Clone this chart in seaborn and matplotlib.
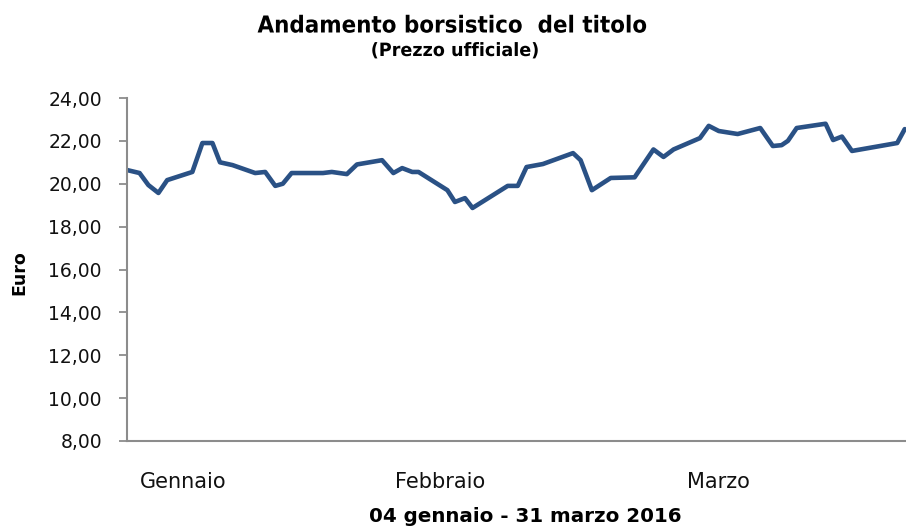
import matplotlib
matplotlib.use("Agg")
import matplotlib.pyplot as plt
from matplotlib.patheffects import AbstractPathEffect
from matplotlib.transforms import Affine2D
import seaborn as sns
import pandas as pd

# Data: trading-day position (0 = 4 Jan 2016) and official price (EUR)
day = [0.0, 1.0, 1.7, 2.5, 3.2, 5.2, 6.0, 6.8, 7.4, 8.4, 10.2, 11.0, 11.8, 12.4,
       13.1, 15.6, 16.3, 17.5, 18.3, 20.3, 21.2, 21.9, 22.7, 23.2, 25.5, 26.1,
       26.9, 27.5, 30.3, 31.1, 31.8, 33.1, 35.5, 36.1, 37.0, 38.5, 40.4, 41.9,
       42.7, 43.5, 45.6, 46.3, 47.1, 48.6, 50.4, 51.4, 52.1, 52.6, 53.3, 55.6,
       56.2, 56.9, 57.7, 61.3, 61.9]
price = [20.64, 20.50, 19.94, 19.57, 20.17, 20.55, 21.90, 21.90, 21.00, 20.87,
         20.50, 20.55, 19.90, 20.00, 20.50, 20.50, 20.55, 20.45, 20.90, 21.10,
         20.50, 20.73, 20.55, 20.55, 19.70, 19.15, 19.33, 18.87, 19.90, 19.90,
         20.78, 20.92, 21.43, 21.10, 19.70, 20.27, 20.30, 21.60, 21.25, 21.60,
         22.13, 22.70, 22.46, 22.32, 22.60, 21.76, 21.80, 22.00, 22.60, 22.80,
         22.04, 22.20, 21.53, 21.90, 22.55]
month_labels = ["Gennaio", "Febbraio", "Marzo"]
month_pos = [4.45, 24.9, 47.05]
y_ticks = [8, 10, 12, 14, 16, 18, 20, 22, 24]


class Squeeze(AbstractPathEffect):
    """Horizontally condense text around a pixel x position."""
    def __init__(self, sx, cx):
        super().__init__()
        self.sx = sx
        self.cx = cx

    def draw_path(self, renderer, gc, tpath, affine, rgbFace=None):
        t = affine + Affine2D().translate(-self.cx, 0).scale(self.sx, 1).translate(self.cx, 0)
        renderer.draw_path(gc, tpath, t, rgbFace)


sns.set_theme(style="white")
plt.rcParams["font.family"] = ["DejaVu Sans"]

df = pd.DataFrame({"day": day, "price": price})

W, H = 906, 528
fig = plt.figure(figsize=(W / 100, H / 100), dpi=100)
ax = fig.add_axes([127 / W, 1 - 441 / H, 1 - 127 / W, (441 - 98) / H])
sns.lineplot(data=df, x="day", y="price", ax=ax, color="#2a5185", linewidth=3.3,
             solid_joinstyle="round", solid_capstyle="round")

ax.set_xlim(0, 62)
ax.set_ylim(8, 24)
ax.set_yticks(y_ticks)
ax.set_yticklabels([f"{v:.2f}".replace(".", ",") for v in y_ticks],
                   fontsize=13.5, color="#111111")
ax.set_xticks(month_pos)
ax.set_xticklabels(month_labels, fontsize=15, color="#111111")
ax.tick_params(axis="x", bottom=True, length=0, pad=22)
ax.tick_params(axis="y", left=True, length=6, width=1.3, color="#8c8c8c",
               direction="out", pad=12)
for s in ["top", "right"]:
    ax.spines[s].set_visible(False)
for s in ["left", "bottom"]:
    ax.spines[s].set_color("#8c8c8c")
    ax.spines[s].set_linewidth(1.5)
ax.set_xlabel("")
ax.set_ylabel("")

fig.text(19 / W, 1 - 273 / H, "Euro", rotation=90, ha="center", va="center",
         fontsize=12.5, fontweight="bold", color="#000000")
tx = 453
fig.text(tx / W, 1 - 26 / H, "Andamento borsistico  del titolo", ha="center",
         va="center", fontsize=16.8, fontweight="bold", color="#000000",
         path_effects=[Squeeze(0.92, tx)])
sx = 455
fig.text(sx / W, 1 - 51 / H, "(Prezzo ufficiale)", ha="center", va="center",
         fontsize=13.2, fontweight="bold", color="#000000",
         path_effects=[Squeeze(0.96, sx)])
fig.text(525 / W, 1 - 516 / H, "04 gennaio - 31 marzo 2016", ha="center",
         va="center", fontsize=14.3, fontweight="bold", color="#000000")

fig.savefig("out.png", dpi=100)
